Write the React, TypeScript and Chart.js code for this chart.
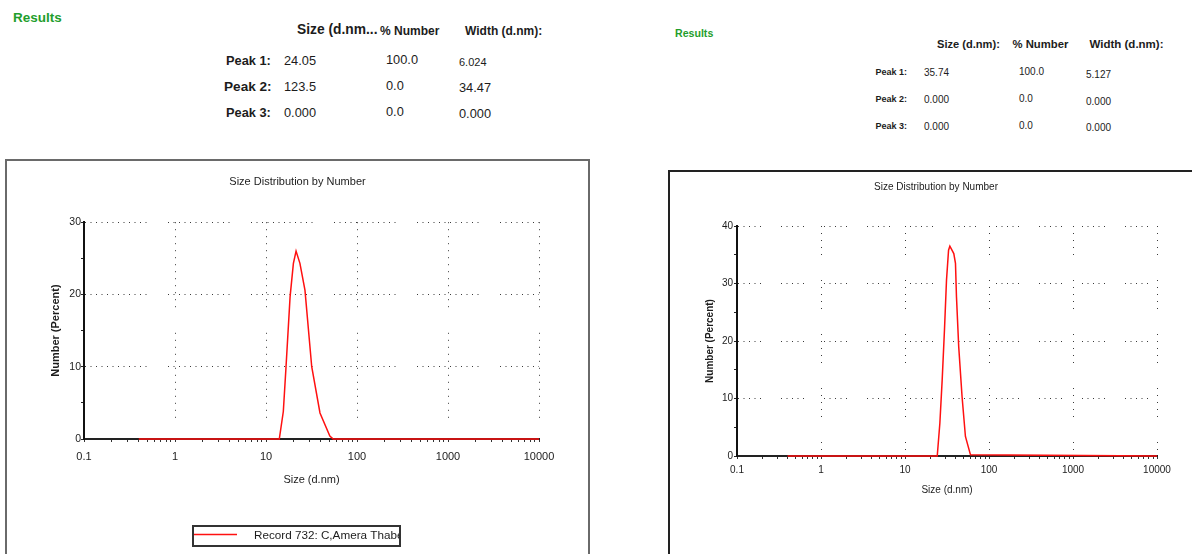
import React, { useEffect, useRef } from 'react';
import { Chart, registerables } from 'chart.js';

Chart.register(...registerables);

// ---------------- data ----------------
const X_DECADES = [0.1, 1, 10, 100, 1000, 10000];
const X_TICK_LABELS = ['0.1', '1', '10', '100', '1000', '10000'];
const X_MINOR_STEPS = [2, 3, 4, 5, 6, 7, 8, 9];

const LEFT_SIZES = [0.4, 14.0, 15.5, 16.6, 18.4, 20.0, 21.4, 23.6, 26.8, 31.8, 39.2, 50.3, 54.8, 10000];
const LEFT_NUMBER = [0, 0, 3.8, 10.0, 19.7, 24.3, 26.0, 24.3, 20.6, 10.0, 3.6, 0.4, 0, 0];
const LEFT_Y_MAX = 30;

const RIGHT_SIZES = [0.4, 24.2, 26.0, 27.7, 29.5, 31.2, 33.0, 34.2, 38.1, 39.9, 41.0, 43.6, 47.8, 52.4, 60.2, 10000];
const RIGHT_NUMBER = [0, 0, 5.7, 13.2, 21.9, 30.6, 35.8, 36.5, 35.2, 33.5, 27.7, 19.0, 10.3, 3.4, 0.2, 0];
const RIGHT_Y_MAX = 40;

const CHART_TITLE = 'Size Distribution by Number';
const X_TITLE = 'Size (d.nm)';
const Y_TITLE = 'Number (Percent)';
const LEFT_RECORD = 'Record 732: C,Amera Thabet';

const PEAK_LABELS = ['Peak 1:', 'Peak 2:', 'Peak 3:'];
const LEFT_HEADERS = ['Size (d.nm...', '% Number', 'Width (d.nm):'];
const LEFT_PEAK_SIZE = ['24.05', '123.5', '0.000'];
const LEFT_PEAK_PCT = ['100.0', '0.0', '0.0'];
const LEFT_PEAK_WIDTH = ['6.024', '34.47', '0.000'];
const RIGHT_HEADERS = ['Size (d.nm):', '% Number', 'Width (d.nm):'];
const RIGHT_PEAK_SIZE = ['35.74', '0.000', '0.000'];
const RIGHT_PEAK_PCT = ['100.0', '0.0', '0.0'];
const RIGHT_PEAK_WIDTH = ['5.127', '0.000', '0.000'];

// ---------------- styles ----------------
const FONT = 'Arial, "Liberation Sans", sans-serif';
const GREEN = '#1f9e2c';
const RED = '#ff1010';
const GRID = '#3a3a3a';
const TXT = '#1c1c1c';

function dotDash(n: number, step: number, period: number): number[] {
  const a: number[] = [];
  for (let i = 0; i < n - 1; i++) a.push(1, step - 1);
  a.push(1, period - (n - 1) * step - 1);
  return a;
}

const X_TICK_VALUES: number[] = [];
X_DECADES.forEach((d, i) => {
  X_TICK_VALUES.push(d);
  if (i < X_DECADES.length - 1) X_MINOR_STEPS.forEach((m) => X_TICK_VALUES.push(d * m));
});

function decadeIndex(v: number) {
  return X_DECADES.findIndex((d) => Math.abs(d - v) < d * 1e-6);
}

type Spec = {
  left: number; top: number; w: number; h: number;
  sizes: number[]; values: number[]; yMax: number;
  label: string; legend: boolean; legendTop: number;
  padRight: number; padBottom: number;
  titleSize: number; titlePadTop: number; titlePadBottom: number;
  tickSize: number; yTickSize: number; axisTitleSize: number;
  yWidth: number; yTitlePad: number; yTickPad: number;
  xHeight: number; xTickPad: number; xTitlePadBottom: number;
  hDash: number[]; vDash: number[];
};

const LEFT_SPEC: Spec = {
  left: 7, top: 161, w: 581, h: 393,
  sizes: LEFT_SIZES, values: LEFT_NUMBER, yMax: LEFT_Y_MAX,
  label: LEFT_RECORD, legend: true, legendTop: 365,
  padRight: 49, padBottom: 35,
  titleSize: 11, titlePadTop: 14, titlePadBottom: 34,
  tickSize: 11, yTickSize: 10.5, axisTitleSize: 11,
  yWidth: 77, yTitlePad: 42, yTickPad: 0,
  xHeight: 80, xTickPad: 8, xTitlePadBottom: 32,
  hDash: dotDash(12, 5.5, 83), vDash: dotDash(13, 7, 110.6),
};

const RIGHT_SPEC: Spec = {
  left: 670, top: 172, w: 532, h: 382,
  sizes: RIGHT_SIZES, values: RIGHT_NUMBER, yMax: RIGHT_Y_MAX,
  label: '', legend: false, legendTop: 0,
  padRight: 45, padBottom: 40,
  titleSize: 10, titlePadTop: 9, titlePadBottom: 33,
  tickSize: 10, yTickSize: 10, axisTitleSize: 10,
  yWidth: 67, yTitlePad: 34, yTickPad: 1,
  xHeight: 58, xTickPad: 5, xTitlePadBottom: 18,
  hDash: dotDash(5, 5.5, 43), vDash: dotDash(5, 7, 54),
};

// boxed record legend, as in the instrument report (text clipped by its frame)
function makeLegendPlugin(s: Spec) {
  return {
    id: 'recordLegend',
    afterDraw(chart: any) {
      if (!s.legend) return;
      const ds = chart.data.datasets[0];
      const ctx = chart.ctx;
      const bx = Math.round(chart.width / 2) - 105;
      const by = s.legendTop;
      const bw = 207;
      const bh = 20;
      ctx.save();
      ctx.strokeStyle = '#333';
      ctx.lineWidth = 2;
      ctx.strokeRect(bx, by, bw, bh);
      ctx.beginPath();
      ctx.rect(bx + 1, by + 1, bw - 2, bh - 2);
      ctx.clip();
      ctx.strokeStyle = ds.borderColor;
      ctx.lineWidth = ds.borderWidth;
      ctx.beginPath();
      ctx.moveTo(bx, by + 8.5);
      ctx.lineTo(bx + 44, by + 8.5);
      ctx.stroke();
      ctx.fillStyle = TXT;
      ctx.font = `11.7px ${FONT}`;
      ctx.textBaseline = 'middle';
      ctx.textAlign = 'left';
      ctx.fillText(ds.label, bx + 61, by + 10);
      ctx.restore();
    },
  };
}

function buildConfig(s: Spec): any {
  const tickFont = { family: FONT, size: s.tickSize };
  return {
    type: 'line',
    data: {
      datasets: [
        {
          label: s.label,
          data: s.sizes.map((x, i) => ({ x, y: s.values[i] })),
          xAxisID: 'x',
          yAxisID: 'y',
          borderColor: RED,
          backgroundColor: RED,
          borderWidth: 1.5,
          pointRadius: 0,
          tension: 0,
          fill: false,
          clip: false,
        },
      ],
    },
    plugins: [makeLegendPlugin(s)],
    options: {
      animation: false,
      responsive: false,
      devicePixelRatio: 1,
      events: [],
      layout: { padding: { left: 0, right: 0, top: 0, bottom: s.padBottom } },
      plugins: {
        title: {
          display: true,
          text: CHART_TITLE,
          color: TXT,
          font: { family: FONT, size: s.titleSize, weight: 'normal' },
          padding: { top: s.titlePadTop, bottom: s.titlePadBottom },
        },
        legend: { display: false },
        tooltip: { enabled: false },
      },
      scales: {
        x: {
          type: 'logarithmic',
          min: 0.1,
          max: 10000,
          afterBuildTicks: (sc: any) => {
            sc.ticks = X_TICK_VALUES.map((v) => ({ value: v }));
          },
          afterFit: (sc: any) => {
            sc.height = s.xHeight;
          },
          ticks: {
            autoSkip: false,
            maxRotation: 0,
            minRotation: 0,
            padding: s.xTickPad,
            color: TXT,
            font: tickFont,
            callback: (v: number) => {
              const i = decadeIndex(Number(v));
              return i >= 0 ? X_TICK_LABELS[i] : '';
            },
          },
          grid: {
            drawTicks: true,
            tickLength: 3,
            tickColor: '#333',
            lineWidth: 1,
            color: (c: any) => {
              const v = c.tick ? c.tick.value : NaN;
              const i = decadeIndex(v);
              return i > 0 ? GRID : 'rgba(0,0,0,0)';
            },
          },
          border: { display: true, color: '#222', width: 2, dash: s.vDash },
          title: {
            display: true,
            text: X_TITLE,
            color: TXT,
            font: { family: FONT, size: s.axisTitleSize },
            padding: { top: 0, bottom: s.xTitlePadBottom },
          },
        },
        y: {
          type: 'linear',
          position: 'left',
          min: 0,
          max: s.yMax,
          afterFit: (sc: any) => {
            sc.width = s.yWidth;
          },
          ticks: {
            stepSize: 5,
            autoSkip: false,
            padding: s.yTickPad,
            color: TXT,
            font: { family: FONT, size: s.yTickSize },
            callback: (v: number) => (Number(v) % 10 === 0 ? String(v) : ''),
          },
          grid: {
            drawTicks: true,
            tickLength: 3,
            tickColor: '#222',
            lineWidth: 1,
            color: (c: any) => {
              const v = c.tick ? c.tick.value : 0;
              return v > 0 && v % 10 === 0 ? GRID : 'rgba(0,0,0,0)';
            },
          },
          border: { display: true, color: '#111', width: 2, dash: s.hDash },
          title: {
            display: true,
            text: Y_TITLE,
            color: TXT,
            font: { family: FONT, size: s.axisTitleSize, weight: 'bold' },
            padding: { top: s.yTitlePad, bottom: 0 },
          },
        },
        // empty right-hand margin of the plot frame
        yPad: {
          type: 'linear',
          position: 'right',
          display: true,
          grid: { display: false, drawOnChartArea: false, drawTicks: false },
          ticks: { display: false },
          border: { display: false },
          afterFit: (sc: any) => {
            sc.width = s.padRight;
          },
        },
      },
    },
  };
}

function ChartCanvas({ spec }: { spec: Spec }) {
  const ref = useRef<HTMLCanvasElement>(null);
  useEffect(() => {
    if (!ref.current) return;
    const chart = new Chart(ref.current, buildConfig(spec));
    return () => chart.destroy();
  }, [spec]);
  return (
    <canvas
      ref={ref}
      width={spec.w}
      height={spec.h}
      style={{ position: 'absolute', left: spec.left, top: spec.top, width: spec.w, height: spec.h, display: 'block' }}
    />
  );
}

function Txt({ x, y, size, bold, color, children }: { x: number; y: number; size: number; bold?: boolean; color?: string; children: React.ReactNode }) {
  return (
    <div
      style={{
        position: 'absolute',
        left: x,
        top: y - size / 2,
        fontSize: size,
        lineHeight: `${size}px`,
        fontWeight: bold ? 'bold' : 'normal',
        color: color || TXT,
        whiteSpace: 'nowrap',
        fontFamily: FONT,
      }}
    >
      {children}
    </div>
  );
}

export default function App() {
  const leftRowsY = [61, 87, 113.5];
  const rightRowsY = [73, 100, 126.5];
  return (
    <div style={{ position: 'absolute', left: 0, top: 0, width: 1192, height: 554, overflow: 'hidden', background: '#fff' }}>
      {/* left results */}
      <Txt x={13} y={18} size={13.5} bold color={GREEN}>Results</Txt>
      <Txt x={297} y={29.5} size={13.8} bold>{LEFT_HEADERS[0]}</Txt>
      <Txt x={380} y={30.5} size={12} bold>{LEFT_HEADERS[1]}</Txt>
      <Txt x={465} y={30.5} size={12} bold>{LEFT_HEADERS[2]}</Txt>
      {PEAK_LABELS.map((p, i) => (
        <React.Fragment key={'l' + i}>
          <Txt x={i === 1 ? 224 : 226} y={leftRowsY[i]} size={i === 1 ? 13.6 : 12.8} bold>{p}</Txt>
          <Txt x={284} y={leftRowsY[i]} size={12.8}>{LEFT_PEAK_SIZE[i]}</Txt>
          <Txt x={386} y={leftRowsY[i] - 1} size={12.8}>{LEFT_PEAK_PCT[i]}</Txt>
          <Txt x={459} y={leftRowsY[i] + 1} size={i === 0 ? 11 : 12.8}>{LEFT_PEAK_WIDTH[i]}</Txt>
        </React.Fragment>
      ))}

      {/* right results */}
      <Txt x={675} y={33} size={10.6} bold color={GREEN}>Results</Txt>
      <Txt x={937} y={44.3} size={11.1} bold>{RIGHT_HEADERS[0]}</Txt>
      <Txt x={1012.5} y={44.3} size={11.3} bold>{RIGHT_HEADERS[1]}</Txt>
      <Txt x={1089.5} y={44.3} size={11.5} bold>{RIGHT_HEADERS[2]}</Txt>
      {PEAK_LABELS.map((p, i) => (
        <React.Fragment key={'r' + i}>
          <Txt x={875.5} y={rightRowsY[i] - 0.5} size={9} bold>{p}</Txt>
          <Txt x={924} y={rightRowsY[i]} size={10}>{RIGHT_PEAK_SIZE[i]}</Txt>
          <Txt x={1019} y={rightRowsY[i] - 1} size={10}>{RIGHT_PEAK_PCT[i]}</Txt>
          <Txt x={1086} y={rightRowsY[i] + 1.5} size={10}>{RIGHT_PEAK_WIDTH[i]}</Txt>
        </React.Fragment>
      ))}

      {/* frames */}
      <div style={{ position: 'absolute', left: 5, top: 159, width: 581, height: 420, border: '2px solid #6a6a6a' }} />
      <div style={{ position: 'absolute', left: 668, top: 170, width: 560, height: 420, border: '2px solid #222' }} />

      <ChartCanvas spec={LEFT_SPEC} />
      <ChartCanvas spec={RIGHT_SPEC} />
    </div>
  );
}
